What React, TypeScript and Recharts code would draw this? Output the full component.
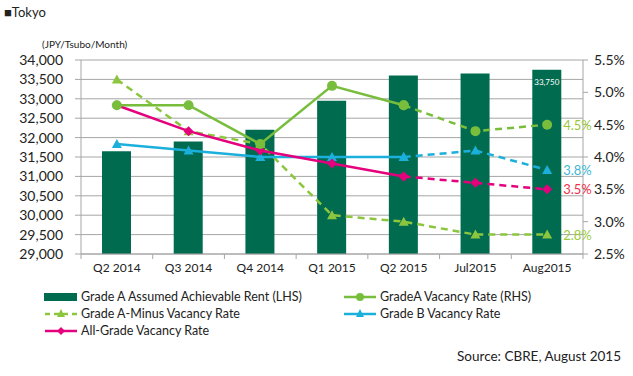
import React from 'react';
import { ComposedChart, Bar, Line, XAxis, YAxis, CartesianGrid, LabelList } from 'recharts';

const periods = ['Q2 2014', 'Q3 2014', 'Q4 2014', 'Q1 2015', 'Q2 2015', 'Jul2015', 'Aug2015'];
const rentA = [31650, 31900, 32200, 32950, 33600, 33650, 33750];
const vacancyA = [4.8, 4.8, 4.2, 5.1, 4.8, 4.4, 4.5];
const vacancyAMinus = [5.2, 4.4, 4.2, 3.1, 3.0, 2.8, 2.8];
const vacancyB = [4.2, 4.1, 4.0, 4.0, 4.0, 4.1, 3.8];
const vacancyAll = [4.8, 4.4, 4.1, 3.9, 3.7, 3.6, 3.5];
const rentTicks = [29000, 29500, 30000, 30500, 31000, 31500, 32000, 32500, 33000, 33500, 34000];
const rateTicks = [2.5, 3.0, 3.5, 4.0, 4.5, 5.0, 5.5];
// index where the forecast (dashed) part starts
const dashFrom = 4;

const FONT = 'Lato, "Liberation Sans", sans-serif';
const C_BAR = '#006B4F';
const C_A = '#78BE3C';
const C_AM = '#8CC63E';
const C_B = '#1BB0DC';
const C_ALL = '#E5007D';
const GRID = '#A6A6A6';

const data = periods.map((p, i) => ({
  period: p,
  rent: rentA[i],
  aSolid: i <= dashFrom ? vacancyA[i] : null,
  aDash: i >= dashFrom ? vacancyA[i] : null,
  aMinus: vacancyAMinus[i],
  bSolid: i <= dashFrom ? vacancyB[i] : null,
  bDash: i >= dashFrom ? vacancyB[i] : null,
  allSolid: i <= dashFrom ? vacancyAll[i] : null,
  allDash: i >= dashFrom ? vacancyAll[i] : null,
}));

const last = periods.length - 1;

const Circle = (color: string) => (props: any) => {
  const { cx, cy, index } = props;
  if (cy == null || isNaN(cy)) return <g key={index} />;
  return <circle key={index} cx={cx} cy={cy} r={5} fill={color} />;
};

const Triangle = (color: string) => (props: any) => {
  const { cx, cy, index } = props;
  if (cy == null || isNaN(cy)) return <g key={index} />;
  return <polygon key={index} points={`${cx},${cy - 5} ${cx + 5},${cy + 4} ${cx - 5},${cy + 4}`} fill={color} />;
};

const Diamond = (color: string) => (props: any) => {
  const { cx, cy, index } = props;
  if (cy == null || isNaN(cy)) return <g key={index} />;
  return <polygon key={index} points={`${cx},${cy - 5} ${cx + 5},${cy} ${cx},${cy + 5} ${cx - 5},${cy}`} fill={color} />;
};

const endLabel = (color: string) => (props: any) => {
  const { x, y, index, value } = props;
  if (index !== last || value == null) return null;
  return (
    <text x={x + 16} y={y} dy={5} fill={color} fontSize={13} fontFamily={FONT}>
      {`${Number(value).toFixed(1)}%`}
    </text>
  );
};

const barLabel = (props: any) => {
  const { x, y, width, index, value } = props;
  if (index !== last) return null;
  return (
    <text x={x + width / 2} y={y + 15} textAnchor="middle" fill="#fff" fontSize={8} fontFamily={FONT}>
      {Number(value).toLocaleString('en-US')}
    </text>
  );
};

const BAND = 502 / periods.length;

const XTick = (props: any) => {
  const { x, y, payload, index } = props;
  return (
    <g>
      <line x1={x - BAND / 2} x2={x - BAND / 2} y1={y - 8} y2={y - 3} stroke={GRID} />
      {index === last && <line x1={x + BAND / 2} x2={x + BAND / 2} y1={y - 8} y2={y - 3} stroke={GRID} />}
      <text x={x} y={y} dy={10} textAnchor="middle" fill="#222" fontSize={12} fontFamily={FONT}>
        {payload.value}
      </text>
    </g>
  );
};

const LegendIcon = ({ kind }: { kind: string }) => {
  if (kind === 'bar') return <svg width={34} height={10}><rect x={0} y={1} width={33} height={8} fill={C_BAR} /></svg>;
  const color = kind === 'a' ? C_A : kind === 'am' ? C_AM : kind === 'b' ? C_B : C_ALL;
  return (
    <svg width={34} height={10}>
      <line x1={1} x2={33} y1={5} y2={5} stroke={color} strokeWidth={2.5} strokeDasharray={kind === 'am' ? '5 4' : undefined} />
      {kind === 'a' && <circle cx={17} cy={5} r={4} fill={color} />}
      {(kind === 'am' || kind === 'b') && <polygon points="17,0 21,8 13,8" fill={color} />}
      {kind === 'all' && <polygon points="17,1 21,5 17,9 13,5" fill={color} />}
    </svg>
  );
};

const legendItems = [
  { kind: 'bar', label: 'Grade A Assumed Achievable Rent  (LHS)', left: 44, top: 289 },
  { kind: 'a', label: 'GradeA Vacancy Rate (RHS)', left: 343, top: 289 },
  { kind: 'am', label: 'Grade A-Minus Vacancy Rate', left: 44, top: 306 },
  { kind: 'b', label: 'Grade B Vacancy Rate', left: 343, top: 306 },
  { kind: 'all', label: 'All-Grade Vacancy Rate', left: 44, top: 323 },
];

export default function App() {
  return (
    <div style={{ position: 'absolute', left: 0, top: 0, width: 633, height: 376, background: '#fff', fontFamily: FONT, color: '#222' }}>
      <div style={{ position: 'absolute', left: 4, top: 4, fontSize: 13 }}>■Tokyo</div>
      <div style={{ position: 'absolute', left: 42, top: 38, fontSize: 10 }}>(JPY/Tsubo/Month)</div>
      <ComposedChart width={633} height={376} data={data} margin={{ top: 60, right: 10, bottom: 92, left: 0 }}>
        <CartesianGrid yAxisId="left" vertical={false} stroke={GRID} />
        <XAxis dataKey="period" height={30} stroke={GRID} tickLine={false} tick={<XTick />} interval={0} />
        <YAxis
          yAxisId="left"
          width={81}
          domain={[29000, 34000]}
          ticks={rentTicks}
          interval={0}
          stroke={GRID}
          tickSize={6}
          tickMargin={12}
          tick={{ fill: '#222', fontSize: 14, fontFamily: FONT }}
          tickFormatter={(v: number) => v.toLocaleString('en-US')}
        />
        <YAxis
          yAxisId="right"
          orientation="right"
          width={40}
          domain={[2.5, 5.5]}
          ticks={rateTicks}
          interval={0}
          stroke={GRID}
          tickSize={5}
          tickMargin={6}
          tick={{ fill: '#222', fontSize: 14, fontFamily: FONT }}
          tickFormatter={(v: number) => `${v.toFixed(1)}%`}
        />
        <Bar yAxisId="left" dataKey="rent" fill={C_BAR} barSize={29} isAnimationActive={false}>
          <LabelList dataKey="rent" content={barLabel} />
        </Bar>
        <Line yAxisId="right" dataKey="aMinus" stroke={C_AM} strokeWidth={2.5} strokeDasharray="7 5" dot={Triangle(C_AM)} isAnimationActive={false}>
          <LabelList dataKey="aMinus" content={endLabel('#9BCB3C')} />
        </Line>
        <Line yAxisId="right" dataKey="bSolid" stroke={C_B} strokeWidth={2.5} dot={Triangle(C_B)} isAnimationActive={false} />
        <Line yAxisId="right" dataKey="bDash" stroke={C_B} strokeWidth={2.5} strokeDasharray="7 5" dot={Triangle(C_B)} isAnimationActive={false}>
          <LabelList dataKey="bDash" content={endLabel('#3DB8D8')} />
        </Line>
        <Line yAxisId="right" dataKey="allSolid" stroke={C_ALL} strokeWidth={2.5} dot={Diamond(C_ALL)} isAnimationActive={false} />
        <Line yAxisId="right" dataKey="allDash" stroke={C_ALL} strokeWidth={2.5} strokeDasharray="7 5" dot={Diamond(C_ALL)} isAnimationActive={false}>
          <LabelList dataKey="allDash" content={endLabel('#F0304A')} />
        </Line>
        <Line yAxisId="right" dataKey="aSolid" stroke={C_A} strokeWidth={2.5} dot={Circle(C_A)} isAnimationActive={false} />
        <Line yAxisId="right" dataKey="aDash" stroke={C_A} strokeWidth={2.5} strokeDasharray="7 5" dot={Circle(C_A)} isAnimationActive={false}>
          <LabelList dataKey="aDash" content={endLabel('#9BC83C')} />
        </Line>
      </ComposedChart>
      {legendItems.map((it) => (
        <div key={it.label} style={{ position: 'absolute', left: it.left, top: it.top, display: 'flex', alignItems: 'center', fontSize: 12.5, whiteSpace: 'nowrap' }}>
          <LegendIcon kind={it.kind} />
          <span style={{ marginLeft: 3 }}>{it.label}</span>
        </div>
      ))}
      <div style={{ position: 'absolute', right: 12, top: 348, fontSize: 13.5 }}>Source: CBRE, August 2015</div>
    </div>
  );
}
